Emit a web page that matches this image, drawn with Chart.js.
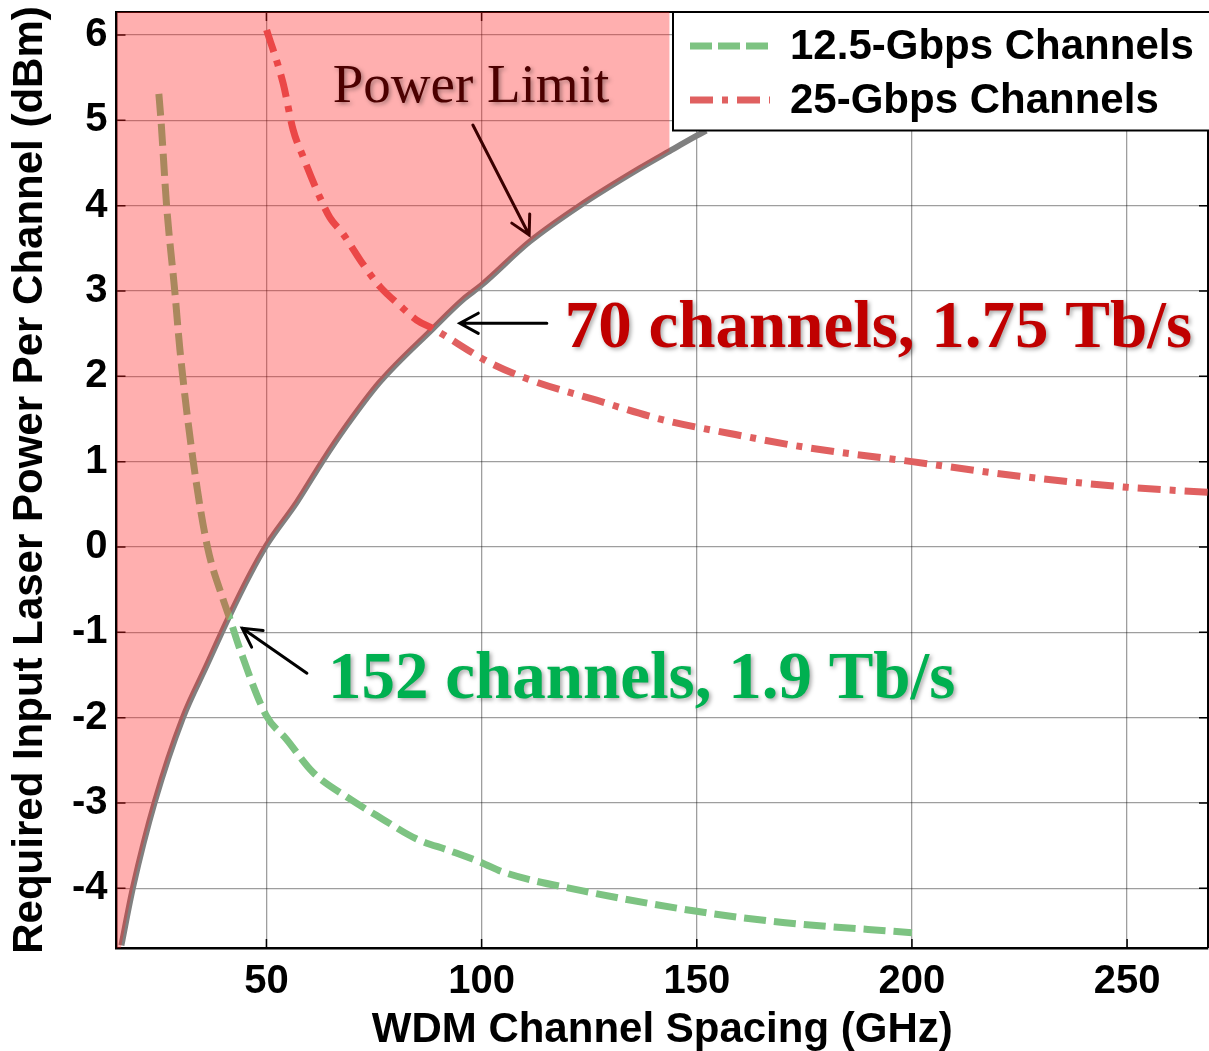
<!DOCTYPE html>
<html>
<head>
<meta charset="utf-8">
<title>Required Input Laser Power vs WDM Channel Spacing</title>
<script src="https://cdn.jsdelivr.net/npm/chart.js@4.4.1/dist/chart.umd.min.js"></script>
<style>
    html, body { margin: 0; padding: 0; background: #fff; }
    #wrap { width: 1209px; height: 1051px; }
</style>
</head>
<body>
<div id="wrap"><canvas id="powerChart" width="1209" height="1051"></canvas></div>
<script>
// Axis ticks
const xTickValues = [50, 100, 150, 200, 250];
const xTickLabels = ['50', '100', '150', '200', '250'];
const yTickValues = [-4, -3, -2, -1, 0, 1, 2, 3, 4, 5, 6];
const yTickLabels = ['-4', '-3', '-2', '-1', '0', '1', '2', '3', '4', '5', '6'];

// 12.5-Gbps channels (GHz, dBm)
const spacing125 = [25.0, 25.5, 26.8, 28.7, 29.9, 33.0, 36.3, 39.9, 41.5, 43.85, 50.0, 54.6, 60.8, 69.3, 77.0, 84.8, 92.6, 100, 105, 123.5, 150, 170, 200];
const power125 = [5.31, 5.0, 4.0, 3.0, 2.31, 1.0, 0.0, -0.61, -0.84, -1.2, -1.98, -2.25, -2.64, -2.95, -3.19, -3.42, -3.56, -3.70, -3.81, -4.03, -4.27, -4.40, -4.52];

// 25-Gbps channels (GHz, dBm)
const spacing25 = [50.05, 53.9, 56.2, 58.55, 62.4, 64.75, 67.8, 72.5, 76.4, 81.0, 84.9, 88.7, 101.9, 111.2, 126.7, 142.2, 157.7, 175, 200, 225, 250, 269];
const power25 = [6.06, 5.43, 4.89, 4.57, 4.10, 3.86, 3.67, 3.31, 3.05, 2.83, 2.66, 2.56, 2.16, 1.96, 1.72, 1.49, 1.33, 1.17, 1.0, 0.83, 0.70, 0.64];

// Power limit curve (GHz, dBm)
const spacingLimit = [16.3, 19.0, 24.1, 30.6, 36.1, 41.1, 46.1, 50.0, 57.0, 63.1, 68.6, 76.3, 88.7, 95.7, 100, 111.2, 122.8, 136.8, 143.7, 150, 152.2];
const powerLimit = [-4.67, -3.99, -2.98, -2.0, -1.39, -0.84, -0.33, 0.02, 0.52, 1.01, 1.42, 1.93, 2.56, 2.90, 3.07, 3.58, 4.0, 4.44, 4.64, 4.82, 4.88];

// Shaded "above the limit" region: starts just below the axis corner, stops at 143.7 GHz
const fillStartSpacing = [15.2];
const fillStartPower = [-4.95];
const fillEndSpacing = 143.7;

const toPoints = (xs, ys) => xs.map((x, i) => ({ x: x, y: ys[i] }));

const limitPoints = toPoints(spacingLimit, powerLimit);
const fillPoints = toPoints(fillStartSpacing, fillStartPower)
    .concat(limitPoints.filter(p => p.x <= fillEndSpacing));

const SANS = '"Liberation Sans", Arial, sans-serif';
const SERIF = '"Liberation Serif", "Times New Roman", serif';
const GREEN = 'rgb(125, 195, 130)';
const RED = 'rgb(224, 96, 96)';

function drawArrow(ctx, x0, y0, x1, y1, color) {
    const ang = Math.atan2(y1 - y0, x1 - x0);
    const head = 21;
    ctx.strokeStyle = color;
    ctx.lineWidth = 3;
    ctx.lineCap = 'round';
    ctx.beginPath();
    ctx.moveTo(x0, y0);
    ctx.lineTo(x1, y1);
    ctx.moveTo(x1 - head * Math.cos(ang - 0.5), y1 - head * Math.sin(ang - 0.5));
    ctx.lineTo(x1, y1);
    ctx.lineTo(x1 - head * Math.cos(ang + 0.5), y1 - head * Math.sin(ang + 0.5));
    ctx.stroke();
}

const overlayPlugin = {
    id: 'overlay',
    beforeDatasetsDraw(chart) {
        // box frame and inward ticks (under the shaded region)
        const { ctx, chartArea: a, scales: { x, y } } = chart;
        ctx.save();
        ctx.strokeStyle = '#000';
        ctx.lineWidth = 2;
        ctx.beginPath();
        ctx.moveTo(a.left, a.top);
        ctx.lineTo(a.right, a.top);
        ctx.lineTo(a.right, a.bottom);
        ctx.stroke();
        ctx.lineWidth = 1.5;
        ctx.beginPath();
        xTickValues.forEach(v => {
            const px = x.getPixelForValue(v);
            ctx.moveTo(px, a.bottom); ctx.lineTo(px, a.bottom - 9);
            ctx.moveTo(px, a.top); ctx.lineTo(px, a.top + 9);
        });
        yTickValues.forEach(v => {
            const py = y.getPixelForValue(v);
            ctx.moveTo(a.left, py); ctx.lineTo(a.left + 9, py);
            ctx.moveTo(a.right, py); ctx.lineTo(a.right - 9, py);
        });
        ctx.stroke();
        ctx.restore();
    },
    afterDraw(chart) {
        const { ctx, chartArea: a, scales: { x, y } } = chart;
        const px = v => x.getPixelForValue(v);
        const py = v => y.getPixelForValue(v);

        // Legend box
        ctx.save();
        ctx.fillStyle = '#fff';
        ctx.fillRect(673, a.top, 560, 118.5);
        ctx.strokeStyle = '#000';
        ctx.lineWidth = 2;
        ctx.strokeRect(673, a.top, 560, 118.5);

        ctx.lineWidth = 7;
        ctx.lineCap = 'butt';
        ctx.strokeStyle = GREEN;
        ctx.setLineDash([22, 6]);
        ctx.beginPath(); ctx.moveTo(690, 46); ctx.lineTo(770, 46); ctx.stroke();
        ctx.strokeStyle = RED;
        ctx.setLineDash([23, 9, 6, 9]);
        ctx.beginPath(); ctx.moveTo(690, 100); ctx.lineTo(770, 100); ctx.stroke();
        ctx.setLineDash([]);

        ctx.fillStyle = '#000';
        ctx.font = 'bold 42px ' + SANS;
        ctx.textBaseline = 'middle';
        ctx.textAlign = 'left';
        ctx.fillText('12.5-Gbps Channels', 790, 47);
        ctx.fillText('25-Gbps Channels', 790, 101);
        ctx.restore();

        // Annotations
        ctx.save();
        ctx.textBaseline = 'alphabetic';
        ctx.textAlign = 'left';
        ctx.shadowColor = 'rgba(0, 0, 0, 0.35)';
        ctx.shadowBlur = 4;
        ctx.shadowOffsetX = 2;
        ctx.shadowOffsetY = 2;

        ctx.fillStyle = '#4c0000';
        ctx.font = '55px ' + SERIF;
        ctx.fillText('Power Limit', px(65.4), py(5.22));

        ctx.fillStyle = '#c00000';
        ctx.font = 'bold 67px ' + SERIF;
        ctx.fillText('70 channels, 1.75 Tb/s', px(119.3), py(2.344));

        ctx.fillStyle = '#00b050';
        ctx.fillText('152 channels, 1.9 Tb/s', px(64.3), py(-1.769));

        ctx.shadowColor = 'transparent';
        drawArrow(ctx, px(97.97), py(4.946), px(111.05), py(3.657), '#3a0000');
        drawArrow(ctx, px(115.16), py(2.622), px(94.95), py(2.622), '#000');
        drawArrow(ctx, px(59.41), py(-1.48), px(44.38), py(-0.953), '#000');
        ctx.restore();
    }
};

const ctx = document.getElementById('powerChart').getContext('2d');
const powerChart = new Chart(ctx, {
    type: 'line',
    data: {
        datasets: [
            {
                label: 'Power limit region',
                data: fillPoints,
                borderWidth: 0,
                pointRadius: 0,
                fill: 'end',
                backgroundColor: 'rgba(255, 25, 25, 0.35)',
                cubicInterpolationMode: 'monotone',
                order: 0
            },
            {
                label: '25-Gbps Channels',
                data: toPoints(spacing25, power25),
                borderColor: RED,
                borderWidth: 7,
                borderDash: [23, 9, 6, 9],
                pointRadius: 0,
                fill: false,
                cubicInterpolationMode: 'monotone',
                order: 1
            },
            {
                label: '12.5-Gbps Channels',
                data: toPoints(spacing125, power125),
                borderColor: GREEN,
                borderWidth: 7,
                borderDash: [22, 8],
                pointRadius: 0,
                fill: false,
                cubicInterpolationMode: 'monotone',
                order: 2
            },
            {
                label: 'Power Limit',
                data: limitPoints,
                borderColor: '#808080',
                borderWidth: 6,
                pointRadius: 0,
                fill: false,
                cubicInterpolationMode: 'monotone',
                order: 3
            }
        ]
    },
    options: {
        responsive: false,
        animation: false,
        devicePixelRatio: 1,
        parsing: false,
        layout: { padding: { top: 12, right: 1, left: 0, bottom: 0 } },
        plugins: {
            legend: { display: false },
            tooltip: { enabled: false }
        },
        scales: {
            x: {
                type: 'linear',
                min: 15.16,
                max: 268.8,
                afterBuildTicks: scale => {
                    scale.ticks = xTickValues.map(v => ({ value: v }));
                },
                afterFit: scale => {
                    scale.height = 103;
                    scale.paddingLeft = 0;
                    scale.paddingRight = 0;
                },
                ticks: {
                    callback: value => xTickLabels[xTickValues.indexOf(value)],
                    color: '#000',
                    padding: 10,
                    maxRotation: 0,
                    font: { family: SANS, size: 40, weight: 'bold' }
                },
                grid: { color: 'rgba(0, 0, 0, 0.38)', lineWidth: 1.3, drawTicks: false },
                border: { display: true, color: '#000', width: 2.5 },
                title: {
                    display: true,
                    text: 'WDM Channel Spacing (GHz)',
                    color: '#000',
                    padding: 0,
                    font: { family: SANS, size: 42, weight: 'bold', lineHeight: 0.96 }
                }
            },
            y: {
                type: 'linear',
                min: -4.70,
                max: 6.27,
                afterBuildTicks: scale => {
                    scale.ticks = yTickValues.map(v => ({ value: v }));
                },
                afterFit: scale => {
                    scale.width = 116.5;
                    scale.paddingTop = 0;
                    scale.paddingBottom = 0;
                },
                ticks: {
                    callback: value => yTickLabels[yTickValues.indexOf(value)],
                    color: '#000',
                    padding: 9,
                    font: { family: SANS, size: 40, weight: 'bold' }
                },
                grid: { color: 'rgba(0, 0, 0, 0.38)', lineWidth: 1.3, drawTicks: false },
                border: { display: true, color: '#000', width: 2.5 },
                title: {
                    display: true,
                    text: 'Required Input Laser Power Per Channel (dBm)',
                    color: '#000',
                    padding: { top: 5, bottom: 0 },
                    font: { family: SANS, size: 42, weight: 'bold' }
                }
            }
        }
    },
    plugins: [overlayPlugin]
});
</script>
</body>
</html>
